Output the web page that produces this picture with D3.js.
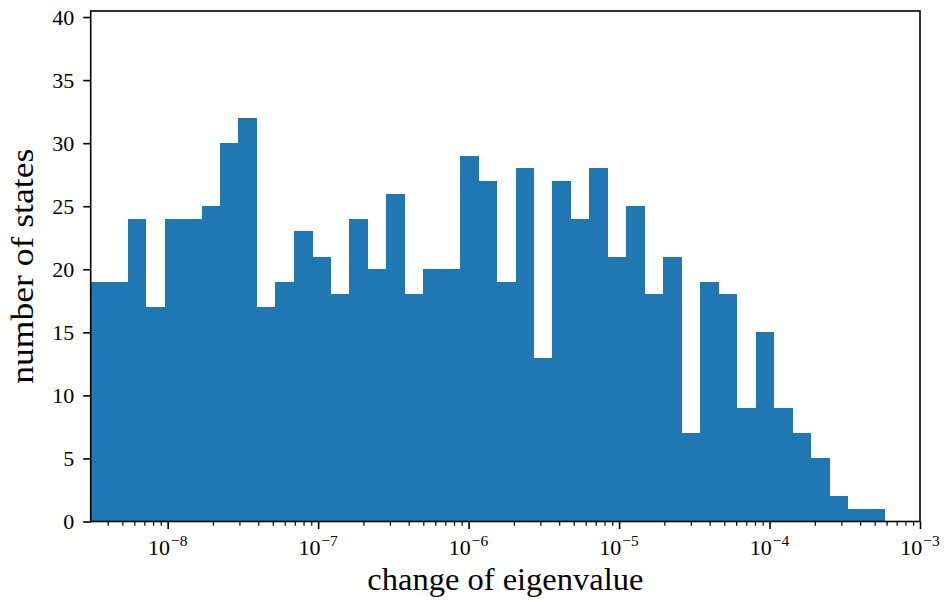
<!DOCTYPE html>
<html>
<head>
<meta charset="utf-8">
<script src="https://cdn.jsdelivr.net/npm/d3@7"></script>
<style>
  body { margin: 0; background: #fff; }
  svg text { font-family: "Liberation Serif", "DejaVu Serif", serif; fill: #000; }
</style>
</head>
<body>
<script>
// histogram counts, one per log-spaced bin, left to right
const counts = [19, 19, 24, 17, 24, 24, 25, 30, 32, 17, 19, 23, 21, 18, 24, 20, 26, 18, 20, 20,
                29, 27, 19, 28, 13, 27, 24, 28, 21, 25, 18, 21, 7, 19, 18, 9, 15, 9, 7, 5, 2, 1, 1];
// first and last bin edge (data units)
const binRange = [3.08e-9, 5.85e-4];
// axis limits
const xLimits = [3.08e-9, 1e-3];
const yLimits = [0, 40.48];
const yTickVals = [0, 5, 10, 15, 20, 25, 30, 35, 40];
const xMajorExps = [-8, -7, -6, -5, -4, -3];
const xLabel = "change of eigenvalue";
const yLabel = "number of states";

const W = 947, H = 602;
const plotL = 90.7, plotR = 920, plotT = 11, plotB = 521.5;

const svg = d3.select("body").append("svg")
  .attr("width", W).attr("height", H);

const x = d3.scaleLog().domain(xLimits).range([plotL, plotR]);
const y = d3.scaleLinear().domain(yLimits).range([plotB, plotT]);

// bin edges, evenly spaced in log10
const lo = Math.log10(binRange[0]), hi = Math.log10(binRange[1]);
const edges = d3.range(counts.length + 1).map(i => 10 ** (lo + i * (hi - lo) / counts.length));
const bins = counts.map((c, i) => ({x0: edges[i], x1: edges[i + 1], n: c}));

svg.append("g")
  .selectAll("rect")
  .data(bins)
  .enter()
  .append("rect")
  .attr("x", d => x(d.x0))
  .attr("width", d => x(d.x1) - x(d.x0) + 0.3)
  .attr("y", d => y(d.n))
  .attr("height", d => y(0) - y(d.n))
  .attr("fill", "#1f77b4")
  .attr("shape-rendering", "crispEdges");

// minor ticks on the log axis
let minor = [];
for (let k = -9; k <= -4; k++) {
  for (let m = 2; m <= 9; m++) minor.push(m * 10 ** k);
}
minor = minor.filter(v => v > xLimits[0] && v < xLimits[1]);

const xAxisMinor = d3.axisBottom(x).tickValues(minor).tickSize(4.2).tickFormat("");
const gMinor = svg.append("g").attr("transform", `translate(0,${plotB})`).call(xAxisMinor);
gMinor.select(".domain").remove();
gMinor.selectAll("line").attr("stroke-width", 1.2);

const xAxis = d3.axisBottom(x).tickValues(xMajorExps.map(e => 10 ** e)).tickSize(7.5).tickFormat("");
const gx = svg.append("g").attr("transform", `translate(0,${plotB})`).call(xAxis);
gx.select(".domain").remove();
gx.selectAll("line").attr("stroke-width", 1.6);

// tick labels 10^{e}
const xl = svg.append("g");
xMajorExps.forEach(e => {
  const t = xl.append("text")
    .attr("x", x(10 ** e))
    .attr("y", 555)
    .attr("text-anchor", "middle")
    .attr("font-size", 22);
  t.append("tspan").text("10");
  t.append("tspan").attr("dy", -9).attr("dx", 1).attr("font-size", 15.5).text("\u2212" + Math.abs(e));
});

const yAxis = d3.axisLeft(y).tickValues(yTickVals).tickSize(7.5).tickPadding(9);
const gy = svg.append("g").attr("transform", `translate(${plotL},0)`).call(yAxis);
gy.select(".domain").remove();
gy.selectAll("line").attr("stroke-width", 1.6);
gy.selectAll("text")
  .attr("font-size", 22)
  .attr("font-family", "Liberation Serif, DejaVu Serif, serif")
  .attr("dy", "0.33em");

// frame
svg.append("rect")
  .attr("x", plotL).attr("y", plotT)
  .attr("width", plotR - plotL).attr("height", plotB - plotT)
  .attr("fill", "none")
  .attr("stroke", "#000")
  .attr("stroke-width", 1.6);

svg.append("text")
  .attr("x", (plotL + plotR) / 2)
  .attr("y", 590)
  .attr("text-anchor", "middle")
  .attr("font-size", 32)
  .attr("textLength", 276)
  .attr("lengthAdjust", "spacingAndGlyphs")
  .text(xLabel);

svg.append("text")
  .attr("transform", `translate(33,${(plotT + plotB) / 2}) rotate(-90)`)
  .attr("text-anchor", "middle")
  .attr("font-size", 32)
  .attr("textLength", 235)
  .attr("lengthAdjust", "spacingAndGlyphs")
  .text(yLabel);
</script>
</body>
</html>
